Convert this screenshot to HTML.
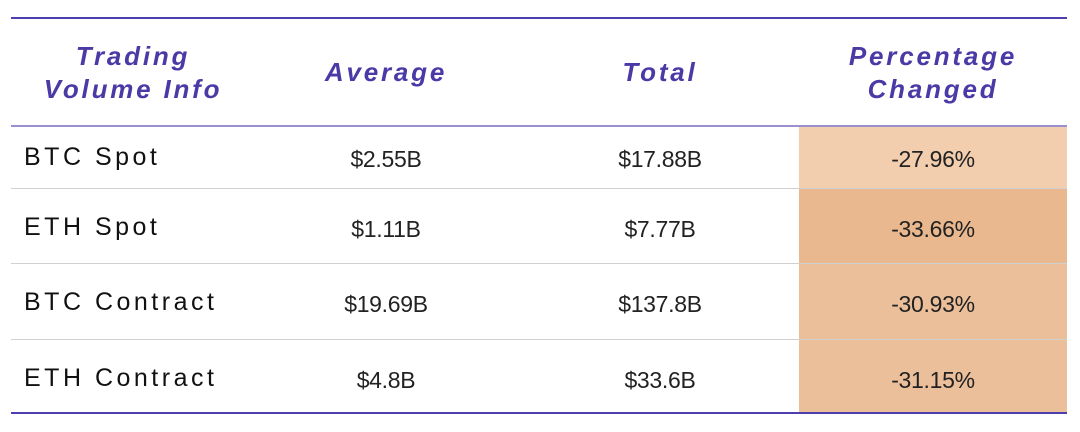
<!DOCTYPE html><html><head><style>
body{margin:0;width:1080px;height:432px;background:#fff;position:relative;overflow:hidden;font-family:"Liberation Sans",sans-serif}
.a{position:absolute}
.h{color:#4a3aa6;font-weight:bold;font-style:italic;font-size:26px;letter-spacing:2.8px;text-align:center;line-height:33px}
.l{font-size:25px;letter-spacing:3.5px;color:#111;left:24px}
.n{font-size:23px;color:#222;text-align:center;width:240px;letter-spacing:-0.3px}
.c{left:799px;width:268px}
</style></head><body>
<div class="a" style="left:11px;top:17px;width:1056px;height:2px;background:#4d3fae"></div>
<div class="a c" style="top:126px;height:62px;background:#f2cdae"></div>
<div class="a c" style="top:189px;height:74px;background:#eab88e"></div>
<div class="a c" style="top:264px;height:75px;background:#ecbf9b"></div>
<div class="a c" style="top:340px;height:73px;background:#ecbf9b"></div>
<div class="a" style="left:11px;top:125px;width:1056px;height:2px;background:#9b8fd0"></div>
<div class="a" style="left:11px;top:188px;width:1056px;height:1px;background:#d0d0d0"></div>
<div class="a" style="left:11px;top:263px;width:1056px;height:1px;background:#d0d0d0"></div>
<div class="a" style="left:11px;top:339px;width:1056px;height:1px;background:#d0d0d0"></div>
<div class="a" style="left:11px;top:412px;width:1056px;height:2px;background:#4d3fae"></div>
<div class="a h" style="left:3px;width:260px;top:40px">Trading<br>Volume Info</div>
<div class="a h" style="left:256px;width:260px;top:56px">Average</div>
<div class="a h" style="left:530px;width:260px;top:56px">Total</div>
<div class="a h" style="left:793px;width:280px;top:40px">Percentage<br>Changed</div>
<div class="a l" style="top:143px">BTC Spot</div>
<div class="a l" style="top:213px">ETH Spot</div>
<div class="a l" style="top:288px">BTC Contract</div>
<div class="a l" style="top:364px">ETH Contract</div>
<div class="a n" style="left:266px;top:146px">$2.55B</div>
<div class="a n" style="left:540px;top:146px">$17.88B</div>
<div class="a n" style="left:813px;top:146px">-27.96%</div>
<div class="a n" style="left:266px;top:216px">$1.11B</div>
<div class="a n" style="left:540px;top:216px">$7.77B</div>
<div class="a n" style="left:813px;top:216px">-33.66%</div>
<div class="a n" style="left:266px;top:291px">$19.69B</div>
<div class="a n" style="left:540px;top:291px">$137.8B</div>
<div class="a n" style="left:813px;top:291px">-30.93%</div>
<div class="a n" style="left:266px;top:367px">$4.8B</div>
<div class="a n" style="left:540px;top:367px">$33.6B</div>
<div class="a n" style="left:813px;top:367px">-31.15%</div>
</body></html>
